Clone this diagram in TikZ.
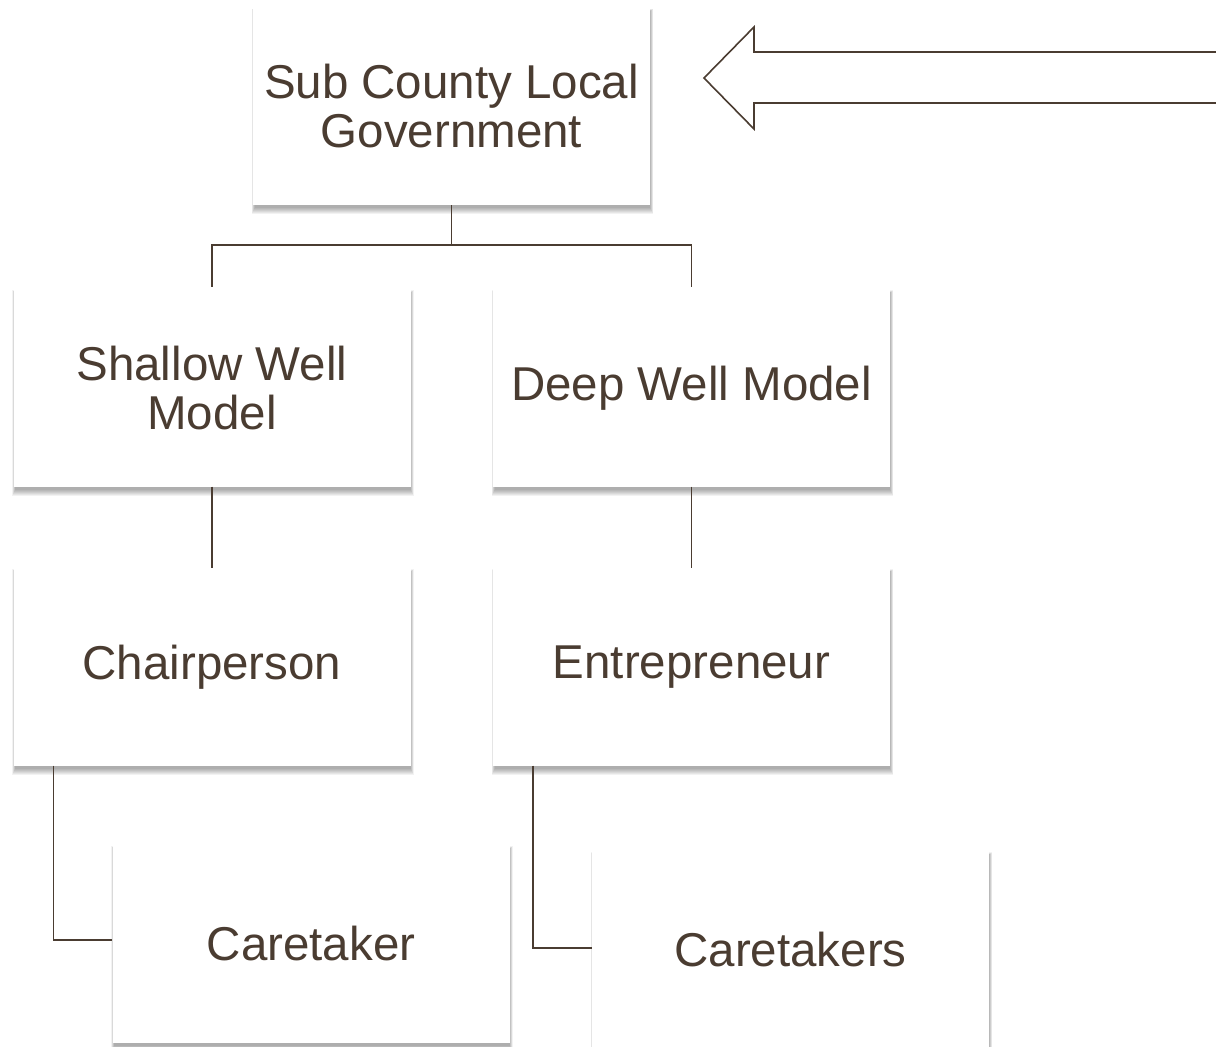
\documentclass[tikz,border=0pt]{standalone}
\usepackage{fontspec}
\setmainfont{Liberation Sans}
\usetikzlibrary{backgrounds,calc}
\definecolor{ink}{HTML}{4A3C31}
\tikzset{
  orgbox/.style={rectangle, fill=white, minimum width=397pt, minimum height=197pt,
    inner sep=0pt, align=center, text=ink, font=\fontsize{47.5}{49}\selectfont},
  link/.style={draw=ink, line width=1.5pt},
  bigarrow/.style={draw=ink, line width=1.6pt, fill=white, line join=miter}
}
\newcommand{\softshadow}[1]{%
  \foreach \i in {0,...,6}{%
    \fill[black, opacity=0.05]
      ($(#1.north west)+(-1+\i*0.5,1+\i*0.4)$) rectangle
      ($(#1.south east)+(3-\i*0.5,9-\i*1.0)$);
  }%
}
\begin{document}
\begin{tikzpicture}[x=1pt,y=-1pt]
\useasboundingbox (0,0) rectangle (1216,1047);

\node[orgbox] (top) at (451.5,106.5) {Sub County Local\\Government};
\node[orgbox] (sw) at (212,388) {Shallow Well\\Model};
\node[orgbox] (dw) at (691.5,388) {Deep Well Model};
\node[orgbox] (ch) at (212,667) {Chairperson};
\node[orgbox] (en) at (691.5,667) {Entrepreneur};
\node[orgbox] (ct) at (311,944) {Caretaker};
\node[orgbox] (cts) at (790.5,950) {Caretakers};

\begin{scope}[on background layer]
  \fill[white] (0,0) rectangle (1216,1047);
  \softshadow{top}
  \softshadow{sw}
  \softshadow{dw}
  \softshadow{ch}
  \softshadow{en}
  \softshadow{ct}
  \softshadow{cts}
\end{scope}

\coordinate (split) at ($(top.south)+(0,40)$);
\draw[link] (top.south) -- (split);
\draw[link] (split) -| ($(sw.north)+(0,-2)$);
\draw[link] (split) -| ($(dw.north)+(0,-2)$);
\draw[link] (sw.south) -- (ch.north);
\draw[link] (dw.south) -- (en.north);
\draw[link] ($(ch.south west)+(40,0)$) |- ($(ct.west)+(0,-4)$);
\draw[link] ($(en.south west)+(40,0)$) |- ($(cts.west)+(0,-2)$);

\draw[bigarrow] (704,78) -- (754,27) -- (754,52) -- (1230,52) -- (1230,103)
  -- (754,103) -- (754,129) -- cycle;
\end{tikzpicture}
\end{document}
